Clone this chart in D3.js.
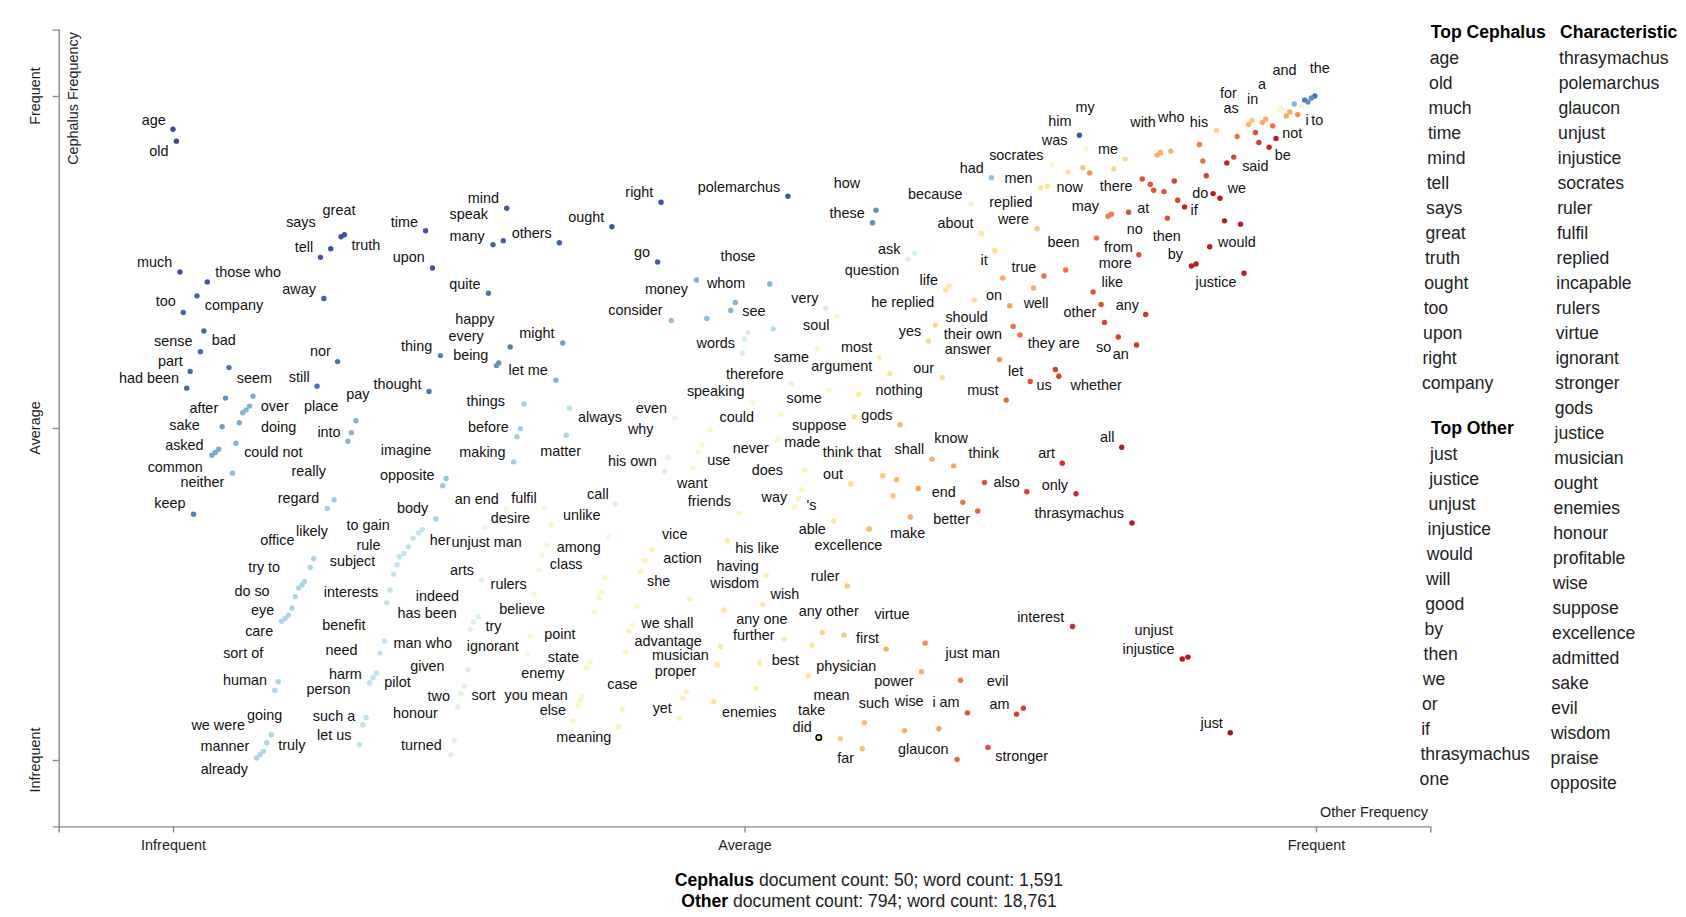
<!DOCTYPE html>
<html>
<head>
<meta charset="utf-8">
<script src="https://cdn.jsdelivr.net/npm/d3@7"></script>
<style>
  body { margin: 0; background: #fff; font-family: "Liberation Sans", Arial, sans-serif; }
  svg text { font-family: "Liberation Sans", Arial, sans-serif; }
</style>
</head>
<body>
<svg id="chart" width="1686" height="917"></svg>
<script>
//// data: [term, other frequency rank, cephalus frequency rank, score]
const tickLabels = ["Infrequent", "Average", "Frequent"];

const cephalusSide = [
  ["age",0.000,0.950,.97],["old",0.003,0.932,.97],["much",0.006,0.735,.95],["those who",0.030,0.720,.95],
  ["says",0.138,0.770,.95],["great",0.147,0.788,.95],["tell",0.129,0.757,.95],["truth",0.150,0.791,.95],
  ["away",0.132,0.695,.93],["company",0.021,0.699,.93],["too",0.009,0.674,.93],["time",0.221,0.797,.95],
  ["upon",0.227,0.741,.95],["mind",0.292,0.831,.95],["speak",0.289,0.782,.93],["many",0.280,0.776,.93],
  ["others",0.338,0.779,.93],["ought",0.384,0.803,.95],["right",0.427,0.840,.95],["polemarchus",0.538,0.849,.95],
  ["go",0.424,0.750,.93],["quite",0.276,0.703,.9],["sense",0.024,0.615,.92],["bad",0.027,0.646,.92],
  ["part",0.015,0.585,.92],["had been",0.012,0.560,.92],["seem",0.049,0.591,.9],["nor",0.144,0.600,.9],
  ["still",0.126,0.563,.9],["after",0.046,0.545,.85],["over",0.070,0.548,.8],["place",0.160,0.511,.78],
  ["pay",0.156,0.493,.78],["into",0.153,0.480,.78],["sake",0.043,0.502,.82],["doing",0.058,0.508,.8],
  ["asked",0.037,0.463,.8],["common",0.034,0.459,.8],["could not",0.055,0.477,.78],["neither",0.052,0.432,.76],
  ["really",0.141,0.392,.72],["regard",0.135,0.379,.72],["keep",0.018,0.370,.88],["thought",0.224,0.555,.9],
  ["thing",0.234,0.609,.88],["imagine",0.239,0.424,.74],["opposite",0.236,0.413,.74],["body",0.230,0.363,.72],
  ["happy",0.295,0.622,.88],["every",0.285,0.598,.85],["being",0.283,0.594,.85],["might",0.341,0.628,.82],
  ["let me",0.335,0.572,.78],["things",0.307,0.536,.72],["before",0.304,0.499,.72],["making",0.298,0.449,.72],
  ["always",0.347,0.530,.68],["matter",0.344,0.489,.7],["whom",0.458,0.723,.78],["those",0.522,0.717,.78],
  ["money",0.467,0.665,.76],["consider",0.436,0.662,.75],["see",0.525,0.649,.68],["how",0.615,0.828,.85],
  ["these",0.612,0.809,.85],["had",0.716,0.877,.75],["him",0.793,0.941,.95]
];

const cephalusTail = [
  ["likely",0.123,0.303,.7],["office",0.120,0.290,.7],["try to",0.115,0.269,.7],["do so",0.107,0.246,.7],
  ["eye",0.101,0.218,.7],["care",0.095,0.209,.7],["sort of",0.092,0.118,.7],["human",0.089,0.105,.7],
  ["going",0.086,0.038,.7],["we were",0.082,0.026,.7],["manner",0.079,0.013,.7],["truly",0.076,0.008,.7],
  ["already",0.073,0.003,.7],
  ["her",0.218,0.347,.66],["to gain",0.215,0.342,.66],["unjust man",0.210,0.334,.66],["rule",0.206,0.321,.66],
  ["subject",0.196,0.294,.66],["interests",0.190,0.256,.66],["benefit",0.185,0.179,.66],["need",0.181,0.161,.66],
  ["harm",0.178,0.131,.66],["person",0.175,0.124,.66],["pilot",0.172,0.116,.66],["such a",0.169,0.064,.66],
  ["honour",0.166,0.053,.66],["let us",0.163,0.023,.66],
  ["arts",0.270,0.271,.6],["indeed",0.267,0.216,.6],["has been",0.263,0.208,.6],["try",0.260,0.197,.6],
  ["given",0.258,0.136,.6],["ignorant",0.255,0.111,.6],["man who",0.252,0.100,.6],["two",0.249,0.080,.6],
  ["sort",0.246,0.029,.6],["turned",0.243,0.008,.6]
];

const middleBand = [
  ["words",0.498,0.613,.62],["very",0.571,0.680,.62],["soul",0.581,0.668,.5],["therefore",0.541,0.567,.58],
  ["speaking",0.507,0.538,.52],["same",0.563,0.619,.52],["most",0.618,0.606,.45],["argument",0.627,0.582,.42],
  ["some",0.574,0.557,.5],["could",0.470,0.497,.52],["suppose",0.532,0.520,.5],["made",0.529,0.483,.5],
  ["never",0.463,0.474,.52],["use",0.460,0.464,.52],["even",0.439,0.515,.57],["why",0.433,0.456,.58],
  ["his own",0.430,0.434,.6],["want",0.455,0.440,.52],["friends",0.495,0.372,.5],["does",0.553,0.437,.46],
  ["way",0.544,0.381,.48],["'s",0.547,0.394,.48],["able",0.578,0.360,.43],["call",0.387,0.386,.6],
  ["an end",0.292,0.378,.55],["fulfil",0.325,0.380,.55],["desire",0.273,0.351,.56],["unlike",0.331,0.354,.54],
  ["among",0.327,0.324,.53],["class",0.320,0.286,.54],["rulers",0.316,0.250,.52],["believe",0.313,0.186,.54],
  ["point",0.310,0.159,.54],["state",0.362,0.139,.5],["enemy",0.365,0.148,.5],["you mean",0.358,0.095,.5],
  ["else",0.350,0.059,.5],["meaning",0.390,0.050,.47],["case",0.393,0.076,.48],["yet",0.443,0.063,.46],
  ["enemies",0.473,0.088,.42],["vice",0.419,0.317,.46],["action",0.413,0.300,.46],["she",0.409,0.284,.47],
  ["we shall",0.406,0.231,.5],["advantage",0.402,0.203,.5],["musician",0.399,0.194,.48],["proper",0.396,0.163,.48],
  ["his like",0.485,0.330,.44],["having",0.519,0.278,.45],["wisdom",0.452,0.242,.47],["wish",0.516,0.234,.43],
  ["any one",0.482,0.226,.42],["further",0.535,0.182,.44],["best",0.513,0.146,.44],["any other",0.568,0.192,.38],
  ["ruler",0.590,0.262,.35],["physician",0.556,0.127,.42],["did",0.565,0.034,.42],["take",0.584,0.032,.36],
  ["mean",0.605,0.056,.33],["far",0.603,0.017,.33],["excellence",0.609,0.348,.33],["make",0.609,0.348,.33]
];

const otherSide = [
  ["because",0.698,0.837,.57],["socrates",0.769,0.896,.53],["was",0.783,0.886,.42],["my",0.799,0.920,.52],
  ["men",0.759,0.862,.42],["now",0.765,0.864,.42],["replied",0.796,0.892,.35],["were",0.756,0.800,.35],
  ["about",0.707,0.793,.42],["been",0.781,0.738,.2],["ask",0.649,0.763,.62],["question",0.643,0.754,.62],
  ["it",0.719,0.767,.4],["true",0.762,0.729,.2],["life",0.676,0.708,.43],["he replied",0.679,0.714,.43],
  ["the",0.999,1.000,.9],["and",0.996,0.997,.85],["a",0.993,0.991,.85],["in",0.981,0.988,.78],
  ["for",0.970,0.981,.52],["as",0.968,0.979,.52],["to",0.990,0.994,.88],["i",0.987,0.985,.55],
  ["not",0.962,0.955,.2],["be",0.959,0.923,.07],["said",0.950,0.930,.12],["his",0.913,0.948,.38],
  ["who",0.873,0.917,.3],["with",0.864,0.915,.3],["me",0.833,0.905,.4],["there",0.823,0.890,.38],
  ["do",0.910,0.853,.05],["we",0.916,0.846,.05],["if",0.885,0.833,.07],["may",0.818,0.819,.22],
  ["at",0.836,0.825,.15],["no",0.870,0.816,.15],["then",0.879,0.843,.12],["from",0.845,0.761,.15],
  ["by",0.891,0.744,.05],["would",0.907,0.773,.05],["more",0.808,0.786,.2],["like",0.805,0.705,.15],
  ["justice",0.937,0.733,.05],["on",0.701,0.693,.4],["well",0.732,0.684,.28],["other",0.812,0.686,.15],
  ["should",0.667,0.655,.38],["yes",0.661,0.631,.38],["their own",0.735,0.653,.2],["they are",0.741,0.640,.2],
  ["answer",0.723,0.603,.25],["our",0.673,0.576,.4],["let",0.750,0.570,.15],["us",0.772,0.588,.12],
  ["whether",0.775,0.578,.12],["nothing",0.600,0.551,.42],["must",0.729,0.542,.18],["gods",0.596,0.517,.4],
  ["think that",0.621,0.428,.35],["out",0.593,0.416,.4],["shall",0.664,0.453,.3],["know",0.683,0.443,.28],
  ["think",0.710,0.418,.15],["also",0.747,0.404,.12],["only",0.790,0.401,.08],["art",0.778,0.447,.1],
  ["end",0.691,0.388,.2],["better",0.704,0.375,.18],["thrasymachus",0.839,0.357,.05],["any",0.851,0.671,.1],
  ["so",0.827,0.637,.12],["an",0.843,0.625,.1],["all",0.830,0.471,.05],["virtue",0.658,0.176,.25],
  ["first",0.624,0.167,.3],["interest",0.787,0.201,.08],["just man",0.689,0.120,.22],["power",0.655,0.133,.3],
  ["evil",0.744,0.078,.12],["am",0.738,0.069,.12],["i am",0.695,0.071,.15],["wise",0.670,0.047,.28],
  ["such",0.640,0.044,.3],["glaucon",0.686,0.001,.18],["stronger",0.713,0.019,.15],["unjust",0.888,0.155,.04],
  ["injustice",0.883,0.152,.04],["just",0.925,0.041,.02]
];

//// unlabeled points: [other rank, cephalus rank, score]
const unlabeled = [
  [0.726,0.726,.3],[0.753,0.711,.3],[0.802,0.884,.25],
  [0.944,0.963,.35],[0.953,0.960,.3],[0.956,0.965,.3],[0.941,0.957,.32],[0.974,0.970,.3],[0.977,0.976,.3],
  [0.984,0.972,.25],[0.931,0.939,.2],[0.947,0.945,.15],[0.965,0.936,.05],[0.898,0.927,.22],[0.928,0.908,.12],
  [0.922,0.899,.07],[0.901,0.902,.2],[0.904,0.880,.12],[0.861,0.911,.3],[0.848,0.875,.15],[0.855,0.867,.15],
  [0.858,0.858,.15],[0.867,0.856,.15],[0.876,0.872,.12],[0.920,0.812,.05],[0.934,0.807,.05],[0.821,0.822,.22],
  [0.895,0.747,.05],[0.815,0.659,.12],
  [0.067,0.533,.78],[0.064,0.527,.78],[0.061,0.523,.78],[0.040,0.468,.8],[0.301,0.487,.72],
  [0.492,0.689,.78],[0.488,0.677,.78],[0.503,0.644,.62],[0.500,0.634,.62],
  [0.113,0.264,.7],[0.110,0.259,.7],[0.104,0.229,.7],[0.098,0.213,.7],
  [0.202,0.311,.66],[0.198,0.306,.66],[0.193,0.280,.66],[0.187,0.237,.66],[0.172,0.116,.66],[0.166,0.053,.66],
  [0.381,0.336,.52],[0.323,0.309,.53],[0.378,0.275,.5],[0.375,0.253,.5],[0.373,0.244,.5],[0.369,0.222,.5],
  [0.354,0.083,.5],[0.356,0.090,.5],[0.476,0.143,.43],[0.479,0.171,.43],[0.449,0.103,.46],[0.446,0.093,.46],
  [0.559,0.173,.42],[0.587,0.188,.35],[0.510,0.108,.45],[0.636,0.505,.32],[0.633,0.422,.32],[0.652,0.409,.28],
  [0.630,0.398,.35],[0.550,0.407,.48],[0.645,0.366,.3]
];

const topCephalus = ["age","old","much","time","mind","tell","says","great","truth","ought","too","upon","right","company"];
const topOther = ["just","justice","unjust","injustice","would","will","good","by","then","we","or","if","thrasymachus","one"];
const characteristic = ["thrasymachus","polemarchus","glaucon","unjust","injustice","socrates","ruler","fulfil","replied",
  "incapable","rulers","virtue","ignorant","stronger","gods","justice","musician","ought","enemies","honour","profitable",
  "wise","suppose","excellence","admitted","sake","evil","wisdom","praise","opposite"];

const cephalusDocs = 50, cephalusWords = 1591;
const otherDocs = 794, otherWords = 18761;

//// label placement around each point: [dx, dy, anchor]
const labelAt = {
  "age":[-7.3,-4,"e"],"old":[-8,15,"e"],"much":[-7.7,-5,"e"],"those who":[8,-4.7,"s"],"says":[-15,-22,"e"],
  "great":[-2,-21.7,"m"],"tell":[-7.3,-5.3,"e"],"truth":[7,15,"s"],"away":[-8,-4.3,"e"],"company":[7.7,14,"s"],
  "too":[-7.6,-6,"e"],"time":[-7.7,-4,"e"],"upon":[-7.7,-5.7,"e"],"mind":[-7.7,-5,"e"],"speak":[-15.3,-22,"e"],
  "many":[-8.4,-4,"e"],"others":[-7.6,-4.7,"e"],"ought":[-7.7,-4.7,"e"],"right":[-7.7,-5,"e"],"polemarchus":[-7.7,-4,"e"],
  "go":[-7.7,-4.7,"e"],"quite":[-8,-4.3,"e"],"sense":[-8,-5.7,"e"],"bad":[8,14,"s"],"part":[-7.3,-5.7,"e"],
  "had been":[-7.7,-5,"e"],"seem":[7.7,15,"s"],"nor":[-6.7,-5.7,"e"],"still":[-7.4,-4.3,"e"],"after":[-7.4,14.4,"e"],
  "over":[7.7,14.7,"s"],"place":[-17.4,-10,"e"],"pay":[-5,-33.4,"s"],"into":[-7.3,-4.3,"e"],"sake":[-22.4,3.3,"e"],
  "doing":[21.7,9,"s"],"asked":[-11.7,-2.7,"e"],"common":[-9,16.7,"e"],"could not":[8.3,13.4,"s"],"neither":[-8,13.4,"e"],
  "really":[-8.3,-23.3,"e"],"regard":[-8,-5,"e"],"keep":[-8,-6,"e"],"thought":[-7.6,-2.7,"e"],"thing":[-8.3,-5,"e"],
  "imagine":[-15,-23.3,"e"],"opposite":[-8.3,-6,"e"],"body":[-7.7,-6,"e"],"happy":[-15.8,-23.3,"e"],"every":[-15.1,-21.7,"e"],
  "being":[-8.1,-5.7,"e"],"might":[-8.2,-5,"e"],"let me":[-8.2,-5,"e"],"things":[-18.9,2.4,"e"],"before":[-11.6,3,"e"],
  "making":[-8,-5,"e"],"always":[8.4,14.4,"s"],"matter":[-26,21,"s"],"whom":[10.4,8,"s"],"those":[-14,-23,"e"],
  "money":[-18.7,-24.3,"e"],"consider":[-8.7,-5.7,"e"],"see":[-7.6,-13,"e"],"how":[-15.7,-22,"e"],"these":[-7.7,-5,"e"],
  "had":[-7.7,-4.4,"e"],"him":[-8,-9.3,"e"],
  "likely":[-17.6,-23,"s"],"office":[-15.7,-22.7,"e"],"try to":[-24.3,-9,"e"],"do so":[-25.7,-1,"e"],"eye":[-14.3,0,"e"],
  "care":[-8.4,15,"e"],"sort of":[-15,-23.4,"e"],"human":[-7.6,-5,"e"],"going":[-24.3,-14.3,"s"],"we were":[-21.7,-12.7,"e"],
  "manner":[-14,0,"e"],"truly":[18.3,-5,"s"],"already":[-8.4,15.6,"e"],"her":[7.6,15.7,"s"],"to gain":[-29.1,-3.4,"e"],
  "unjust man":[38.4,9,"s"],"rule":[-28,3.3,"e"],"subject":[-21.7,1.7,"e"],"interests":[-12,6.7,"e"],"benefit":[-19,-11,"e"],
  "need":[-22.3,1.7,"e"],"harm":[-14.6,5.7,"e"],"person":[-22.6,16.6,"e"],"pilot":[14.7,4.4,"s"],"such a":[-11,3.4,"e"],
  "honour":[30.2,-6.7,"s"],"let us":[-7.9,-5,"e"],"arts":[-7.7,-5,"e"],"indeed":[-19.1,-16,"e"],"has been":[-16.8,-3.4,"e"],
  "try":[15.3,2,"s"],"given":[-23.3,1.7,"e"],"ignorant":[2.4,-35.3,"s"],"man who":[-9.1,-45.6,"e"],"two":[-7.6,-5.7,"e"],
  "sort":[17.4,-41,"s"],"turned":[-8.9,-5,"e"],
  "words":[-7.3,-5.4,"e"],"very":[-7.1,-5,"e"],"soul":[-7.6,13.3,"e"],"therefore":[-7.7,-5,"e"],"speaking":[-8,-6.7,"e"],
  "same":[-7.5,13.4,"e"],"most":[-7.1,-6,"e"],"argument":[-17.5,-2.3,"e"],"some":[-7.4,13.3,"e"],"could":[9.3,-8.3,"s"],
  "suppose":[11,15.7,"s"],"made":[6.7,7.7,"s"],"never":[30.6,7.7,"s"],"use":[8.4,13.3,"s"],"even":[-7.8,-5,"e"],
  "why":[-14.4,-23.3,"e"],"his own":[-7.8,-5.7,"e"],"want":[-16,20.6,"s"],"friends":[-7.8,-6.7,"e"],"does":[-22.1,5,"e"],
  "way":[-7.7,-5,"e"],"'s":[8.4,11.7,"s"],"able":[-7.8,13.3,"e"],"call":[-6.7,-4.7,"e"],"an end":[-8,-5,"e"],
  "fulfil":[-7.7,-4.7,"e"],"desire":[5.7,-4.4,"s"],"unlike":[11.6,-5,"s"],"among":[10,6.7,"s"],"class":[11,-0.7,"s"],
  "rulers":[-7.6,-5.3,"e"],"believe":[14.2,-22.4,"e"],"point":[17,-15,"s"],"state":[-7.8,-5.4,"e"],"enemy":[-25.8,16,"e"],
  "you mean":[-14.5,2.6,"e"],"else":[-7,-5.7,"e"],"meaning":[-7.4,15,"e"],"case":[0.2,-21,"m"],"yet":[-7.5,-5,"e"],
  "enemies":[8.4,15,"s"],"vice":[10,-11,"s"],"action":[18.3,2.3,"s"],"she":[6.6,14.3,"s"],"we shall":[4.3,21.6,"s"],
  "advantage":[2,20.7,"s"],"musician":[23,29,"s"],"proper":[29,24,"s"],"his like":[7.8,12.6,"s"],"having":[-7.4,-4.7,"e"],
  "wisdom":[20.7,-11.6,"s"],"wish":[7.7,-6,"s"],"any one":[12.4,14.3,"s"],"further":[-10,1,"e"],"best":[12.4,1.7,"s"],
  "any other":[6.6,-16.7,"m"],"ruler":[-7.9,-5,"e"],"physician":[7.7,-4.7,"s"],"did":[-7.1,-5.6,"e"],"take":[-15.2,-23.3,"e"],
  "mean":[-15,-22.7,"e"],"far":[-8.2,14.3,"e"],"excellence":[-20.7,21,"m"],"make":[21,9.3,"s"],
  "because":[-8.4,-5.3,"e"],"socrates":[-8.4,-5,"e"],"was":[-0.6,-26.7,"e"],"my":[-10.7,-36.7,"s"],"men":[-8,-4.4,"e"],
  "now":[9,5.7,"s"],"replied":[-50.4,39,"e"],"were":[-8,-5,"e"],"about":[-7.7,-5,"e"],"been":[-2.2,-22.7,"m"],
  "ask":[-14.3,1,"e"],"question":[-8.7,15.7,"e"],"it":[-7,14.7,"e"],"true":[-7.6,-4,"e"],"life":[-7.7,-5,"e"],
  "he replied":[-14.7,21,"e"],"the":[-5,-22.7,"s"],"and":[-39,-22.7,"s"],"a":[-50,-13.4,"s"],"in":[-47.3,0,"s"],
  "for":[-61.7,-10.6,"s"],"as":[-56,3.3,"s"],"to":[6.7,25,"s"],"i":[4.3,19,"s"],"not":[9.6,12.3,"s"],"be":[5.7,12.7,"s"],
  "said":[-16.7,29,"s"],"his":[-8.4,-4,"e"],"who":[13.6,-29.3,"e"],"with":[-4.7,-25,"e"],"me":[-7,-5,"e"],
  "there":[-14,22.4,"s"],"do":[-4.9,4.4,"e"],"we":[7.7,-5.6,"s"],"if":[6,8.3,"s"],"may":[-9,-5,"e"],"at":[8.7,0.4,"s"],
  "no":[-40.6,16,"s"],"then":[-25,41,"s"],"from":[-6,-2.3,"e"],"by":[-8.4,-7.4,"e"],"would":[8.4,0,"s"],
  "more":[2.3,30,"s"],"like":[8.4,-5,"s"],"justice":[-7.6,13.4,"e"],"on":[11.7,0,"s"],"well":[14,2.3,"s"],
  "other":[-4.7,13,"e"],"should":[10,-3.3,"s"],"yes":[-7.3,-5,"e"],"their own":[-11,12.6,"e"],"they are":[7.7,13.3,"s"],
  "answer":[-8.3,-6,"e"],"our":[-8.2,-5,"e"],"let":[-7.1,-5.7,"e"],"us":[-19,20.7,"s"],"whether":[11.7,14,"s"],
  "nothing":[16.7,0.7,"s"],"must":[-7.8,-5,"e"],"gods":[7,3.3,"s"],"think that":[-1.6,-19,"e"],"out":[-7.7,-4.7,"e"],
  "shall":[-7.8,-5.3,"e"],"know":[-2.5,-23,"m"],"think":[-0.8,-24,"m"],"also":[-7,-5,"e"],"only":[-7.9,-4,"e"],
  "art":[-7.2,-5.6,"e"],"end":[-7,-5.6,"e"],"better":[-7.6,12.6,"e"],"thrasymachus":[-8,-5.4,"e"],"any":[-6.8,-4.3,"e"],
  "so":[-7.1,15,"e"],"an":[-7.7,14.3,"e"],"all":[-7.3,-5.6,"e"],"virtue":[-15.5,-24,"e"],"first":[-7.1,-6,"e"],
  "interest":[-8.2,-5,"e"],"just man":[-15,-22.7,"s"],"power":[-8.2,14.3,"e"],"evil":[-15,-22.3,"e"],"am":[-7,-5.3,"e"],
  "i am":[-7.8,-6,"e"],"wise":[-15.2,-23,"e"],"such":[-15.3,-23,"e"],"glaucon":[-8.6,-5,"e"],"stronger":[7.4,13.7,"s"],
  "unjust":[-15,-21.6,"e"],"injustice":[-7.7,-5,"e"],"just":[-7.4,-4.4,"e"]
};
const anchors = { s: "start", e: "end", m: "middle" };
const highlighted = "did";

const svg = d3.select("#chart");
const fontLabel = "14.4px";
const fontSide = "17.6px";

//// scales
const x = d3.scaleLinear().domain([-0.1, 1.1]).range([58.7, 1430.3]);
const y = d3.scaleLinear().domain([-0.1, 1.1]).range([826.4, 29.6]);
const color = d3.scaleSequential(d3.interpolateRdYlBu).domain([0, 1]);

//// axes
const xAxis = svg.append("g")
  .attr("transform", `translate(0,${y(-0.1)})`)
  .call(d3.axisBottom(x).tickValues([0, 0.5, 1]).tickFormat((d, i) => tickLabels[i]));
xAxis.selectAll("text").style("font-size", fontLabel).attr("fill", "#222").attr("dy", "1.0em");

const yAxis = svg.append("g")
  .attr("transform", `translate(${x(-0.1)},0)`)
  .call(d3.axisLeft(y).tickValues([0, 0.5, 1]).tickFormat(""));

svg.selectAll(".domain, .tick line").attr("stroke", "#888").attr("stroke-width", 1.4);

svg.append("g").selectAll("text")
  .data([0, 0.5, 1])
  .enter().append("text")
  .attr("transform", (d, i) => `translate(39.5,${y(d)}) rotate(-90)`)
  .attr("text-anchor", "middle")
  .style("font-size", fontLabel)
  .attr("fill", "#222")
  .text((d, i) => tickLabels[i]);

svg.append("text")
  .attr("transform", "translate(77.5,32) rotate(-90)")
  .attr("text-anchor", "end")
  .style("font-size", fontLabel)
  .attr("fill", "#222")
  .text("Cephalus Frequency");

svg.append("text")
  .attr("x", 1428).attr("y", 816.7)
  .attr("text-anchor", "end")
  .style("font-size", fontLabel)
  .attr("fill", "#222")
  .text("Other Frequency");

//// points
const terms = cephalusSide.concat(cephalusTail, middleBand, otherSide);
const plot = svg.append("g");

plot.selectAll("circle.bg")
  .data(unlabeled)
  .enter().append("circle")
  .attr("class", "bg")
  .attr("cx", d => x(d[0]))
  .attr("cy", d => y(d[1]))
  .attr("r", 2.7)
  .attr("fill", d => color(d[2]));

plot.selectAll("circle.term")
  .data(terms)
  .enter().append("circle")
  .attr("class", "term")
  .attr("cx", d => x(d[1]))
  .attr("cy", d => y(d[2]))
  .attr("r", 2.7)
  .attr("fill", d => color(d[3]))
  .attr("stroke", d => d[0] === highlighted ? "#000" : "none")
  .attr("stroke-width", 1.6);

plot.selectAll("text.label")
  .data(terms)
  .enter().append("text")
  .attr("class", "label")
  .attr("x", d => x(d[1]) + (labelAt[d[0]] || [8, 4, "s"])[0])
  .attr("y", d => y(d[2]) + (labelAt[d[0]] || [8, 4, "s"])[1])
  .attr("text-anchor", d => anchors[(labelAt[d[0]] || [8, 4, "s"])[2]])
  .style("font-size", fontLabel)
  .attr("fill", "#111")
  .text(d => d[0]);

//// side lists
const drawList = (title, items, x0, y0, drift) => {
  const g = svg.append("g");
  g.append("text")
    .attr("x", x0).attr("y", y0)
    .style("font-size", fontSide)
    .style("font-weight", "bold")
    .attr("fill", "#000")
    .text(title);
  g.selectAll("text.item")
    .data(items)
    .enter().append("text")
    .attr("class", "item")
    .attr("x", (d, i) => x0 - 1 - drift * i)
    .attr("y", (d, i) => y0 + 25.2 + 25 * i)
    .style("font-size", fontSide)
    .attr("fill", "#222")
    .text(d => d);
};
drawList("Top Cephalus", topCephalus, 1430.7, 38.3, 0.6);
drawList("Top Other", topOther, 1431, 434.3, 0.8);
drawList("Characteristic", characteristic, 1560, 38.3, 0.3);

//// counts
const fmt = d3.format(",");
const counts = [
  ["Cephalus", cephalusDocs, cephalusWords],
  ["Other", otherDocs, otherWords]
];
const foot = svg.append("g");
counts.forEach((c, i) => {
  const t = foot.append("text")
    .attr("x", 869).attr("y", 885.6 + 21.4 * i)
    .attr("text-anchor", "middle")
    .style("font-size", fontSide)
    .attr("fill", "#222");
  t.append("tspan").style("font-weight", "bold").attr("fill", "#000").text(c[0]);
  t.append("tspan").text(` document count: ${fmt(c[1])}; word count: ${fmt(c[2])}`);
});
</script>
</body>
</html>
